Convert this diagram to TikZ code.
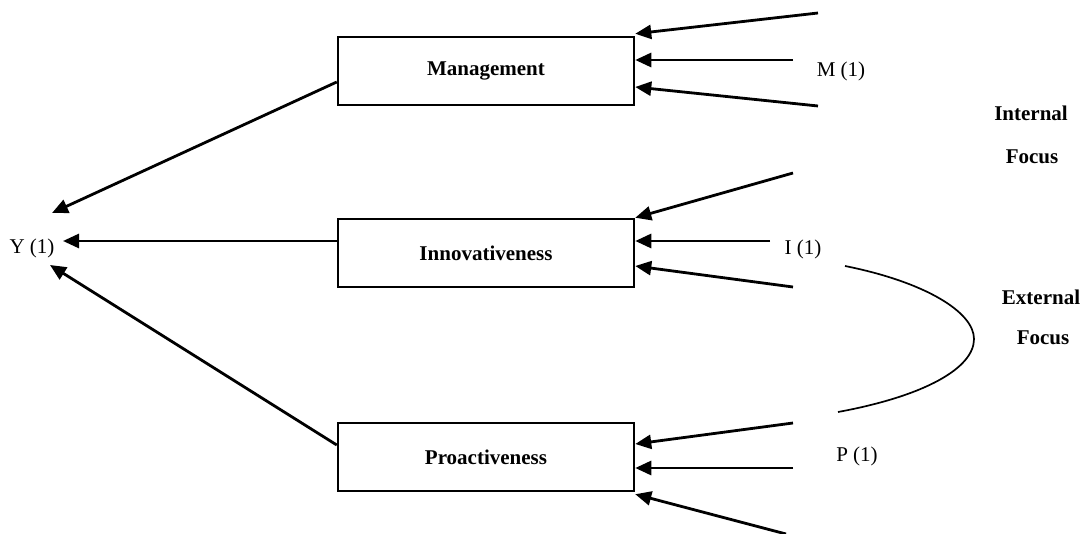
\documentclass[tikz,border=0pt]{standalone}
\usepackage{fontspec}
\setmainfont{Liberation Serif}
\usetikzlibrary{arrows.meta,calc}
\begin{document}
\begin{tikzpicture}[x=1pt,y=-1pt,
  box/.style={draw,line width=2.5pt,minimum width=296pt,minimum height=68pt,inner sep=0pt,font=\fontsize{21}{24}\selectfont\bfseries},
  lbl/.style={inner sep=0pt,font=\fontsize{21}{24}\selectfont},
  blbl/.style={inner sep=0pt,font=\fontsize{21}{24}\selectfont\bfseries},
  arr/.style={line width=2.8pt,-{Triangle[length=16pt,width=14pt]}},
  curve/.style={line width=1.7pt}]
\useasboundingbox (0,0) rectangle (1086,534);
% boxes
\node[box] (mg) at (486,71) {Management};
\node[box] (in) at (486,253) {Innovativeness};
\node[box] (pr) at (486,457) {Proactiveness};
% labels
\node[lbl] (y) at (32,248) {Y (1)};
\node[lbl] (m) at (841,71) {M (1)};
\node[lbl] (i) at (803,249) {I (1)};
\node[lbl] (p) at (857,456) {P (1)};
\node[blbl] (int) at (1031,113) {Internal};
\node[blbl] (intf) at (1032,157) {Focus};
\node[blbl] (ext) at (1041,297) {External};
\node[blbl] (extf) at (1043,338) {Focus};
% free ends
\coordinate (m1) at (818,13);
\coordinate (m2) at (793,60);
\coordinate (m3) at (818,106);
\coordinate (i1) at (793,173);
\coordinate (i2) at (770,241);
\coordinate (i3) at (793,287);
\coordinate (p1) at (793,423);
\coordinate (p2) at (793,468);
\coordinate (p3) at (786,534);
\coordinate (yt) at (52,213);
\coordinate (ym) at (63,241);
\coordinate (yb) at (50,265);
\coordinate (c1) at (845,266);
\coordinate (c2) at (974,339);
\coordinate (c3) at (838,412);
% inputs
\draw[arr] (m1) -- ([yshift=2pt]mg.north east);
\draw[arr] (m2) -- ([yshift=11pt]mg.east);
\draw[arr] (m3) -- ([yshift=-16pt]mg.east);
\draw[arr] (i1) -- (in.north east);
\draw[arr] (i2) -- ([yshift=12pt]in.east);
\draw[arr] (i3) -- ([yshift=-13pt]in.east);
\draw[arr] (p1) -- ([yshift=13pt]pr.east);
\draw[arr] (p2) -- ([yshift=-11pt]pr.east);
\draw[arr] (p3) -- ([yshift=-2pt]pr.south east);
% outputs
\draw[arr] ([yshift=-11pt]mg.west) -- (yt);
\draw[arr] ([yshift=12pt]in.west) -- (ym);
\draw[arr] ([yshift=12pt]pr.west) -- (yb);
% curve
\draw[curve] (c1) .. controls (925,282) and (974,312) .. (c2) .. controls (974,368) and (925,396) .. (c3);
\end{tikzpicture}
\end{document}
